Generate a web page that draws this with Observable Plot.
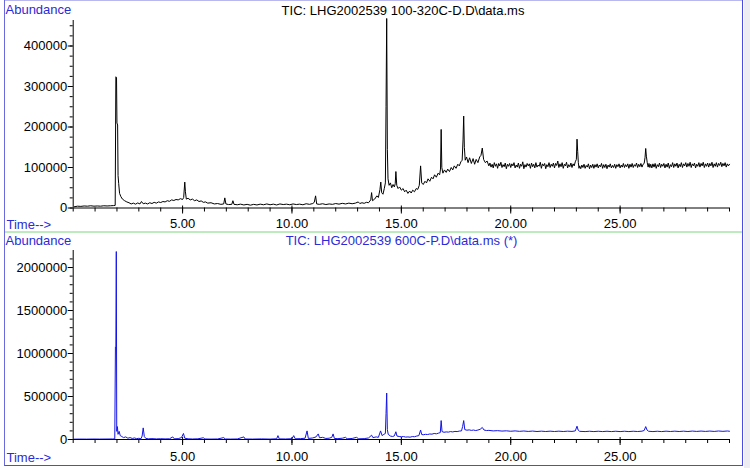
<!DOCTYPE html>
<html>
<head>
<meta charset="utf-8">
<script src="https://cdn.jsdelivr.net/npm/d3@7"></script>
<script src="https://cdn.jsdelivr.net/npm/@observablehq/plot@0.6"></script>
<style>
  html, body { margin: 0; padding: 0; background: #fff; }
  #wrap { position: relative; width: 750px; height: 468px; overflow: hidden; background: #fff; }
  #wrap > svg, #wrap > div { position: absolute; left: 0; }
</style>
</head>
<body>
<div id="wrap"></div>
<script>
// ---------- data ----------
const topTitle = "TIC: LHG2002539 100-320C-D.D\\data.ms";
const botTitle = "TIC: LHG2002539 600C-P.D\\data.ms (*)";
const yLabel = "Abundance";
const xLabel = "Time-->";

const xMajorTicks = [5, 10, 15, 20, 25];
const topYTicks = [0, 100000, 200000, 300000, 400000];
const botYTicks = [0, 500000, 1000000, 1500000, 2000000];

// [time (min), abundance]
const topTrace = [
[0.05,3000],[0.2,4500],[0.35,4000],[0.5,5000],[0.65,4500],[0.8,5500],[0.95,4500],[1.1,5000],[1.25,4500],[1.4,5500],[1.55,5000],[1.7,5500],[1.85,6000],[1.92,6500],
[1.95,324000],[1.98,322000],[2.0,210000],[2.03,205000],[2.05,80000],[2.08,60000],[2.12,36000],[2.18,28000],[2.25,22000],[2.35,18000],[2.45,15000],
[2.55,13000],[2.65,10000],[2.75,12000],[2.85,9500],[2.95,12500],[3.05,10000],[3.12,16000],[3.2,10500],[3.3,12000],[3.4,10000],[3.5,13000],[3.6,11000],[3.7,14000],[3.8,12000],[3.9,15000],[4.0,13500],[4.1,16000],[4.2,15000],[4.3,18000],[4.4,16500],[4.5,20000],[4.6,18500],[4.7,21000],[4.8,20000],[4.9,23000],[5.0,21000],[5.05,26000],[5.1,64000],[5.13,40000],[5.17,22000],[5.25,24000],[5.35,20000],[5.45,22000],[5.55,18000],[5.65,20000],[5.75,16000],[5.85,17500],[5.95,14000],[6.05,15000],[6.15,12000],[6.3,13000],[6.45,10000],[6.6,11000],[6.75,9000],[6.88,10000],[6.93,25000],[6.98,10000],[7.1,8500],[7.25,9000],[7.3,18000],[7.35,9000],[7.5,8000],[7.65,9500],[7.8,7500],[7.95,9000],[8.1,7000],[8.25,9000],[8.4,7500],[8.55,9500],[8.7,8000],[8.85,10000],[9.0,8000],[9.15,9500],[9.3,7500],[9.45,10000],[9.6,8500],[9.75,9500],[9.9,8000],[10.05,10000],[10.2,8500],[10.35,9500],[10.5,8000],[10.65,10500],[10.8,9000],[10.95,11000],[11.02,14000],[11.08,30000],[11.13,10000],[11.25,9000],[11.4,10500],[11.55,8500],[11.7,10000],[11.85,9000],[12.0,11000],[12.15,9500],[12.3,11500],[12.45,10000],[12.6,12000],[12.75,10500],[12.9,12000],[13.03,15000],[13.1,11000],[13.2,13000],[13.3,11500],[13.4,14000],[13.5,13000],[13.6,20000],[13.64,38000],[13.68,18000],[13.78,22000],[13.88,30000],[13.95,26000],[14.02,45000],[14.06,64000],[14.1,38000],[14.16,34000],[14.22,48000],[14.27,62000],[14.3,250000],[14.33,468000],[14.36,145000],[14.39,72000],[14.44,56000],[14.5,62000],[14.56,50000],[14.62,58000],[14.68,52000],[14.72,60000],[14.75,90000],[14.79,56000],[14.85,48000],[14.92,52000],[15.0,44000],[15.08,48000],[15.15,40000],[15.22,44000],[15.3,36000],[15.38,42000],[15.45,37000],[15.52,44000],[15.6,40000],[15.68,48000],[15.75,46000],[15.82,56000],[15.88,104000],[15.93,62000],[16.0,58000],[16.08,66000],[16.15,62000],[16.22,72000],[16.3,66000],[16.38,76000],[16.45,72000],[16.52,82000],[16.6,76000],[16.68,86000],[16.75,82000],[16.79,96000],[16.82,194000],[16.85,100000],[16.9,86000],[16.97,94000],[17.05,88000],[17.12,96000],[17.2,90000],[17.28,100000],[17.35,94000],[17.42,104000],[17.5,98000],[17.58,108000],[17.65,104000],[17.72,114000],[17.78,118000],[17.82,168000],[17.85,227000],[17.88,150000],[17.92,118000],[17.98,126000],[18.05,112000],[18.12,124000],[18.2,110000],[18.28,122000],[18.35,108000],[18.42,120000],[18.5,112000],[18.58,126000],[18.64,130000],[18.7,148000],[18.76,120000],[18.84,112000],[18.92,116000],
[19.0,104000],[19.05,111000],[19.1,101000],[19.15,108000],[19.2,99000],[19.25,112000],[19.3,103000],[19.35,109000],[19.4,98000],[19.45,110000],[19.5,104000],[19.55,113000],[19.6,100000],[19.65,107000],[19.7,102000],[19.75,111000],[19.8,97000],[19.85,108000],[19.9,103000],[19.95,110000],
[20.0,100000],[20.05,109000],[20.1,104000],[20.15,112000],[20.2,99000],[20.25,106000],[20.3,101000],[20.35,111000],[20.4,98000],[20.45,108000],[20.5,103000],[20.55,114000],[20.6,97000],[20.65,107000],[20.7,101000],[20.75,110000],[20.8,104000],[20.85,109000],[20.9,98000],[20.95,111000],
[21.0,102000],[21.05,108000],[21.1,99000],[21.15,112000],[21.2,101000],[21.25,106000],[21.3,103000],[21.35,113000],[21.4,98000],[21.45,109000],[21.5,104000],[21.55,110000],[21.6,97000],[21.65,107000],[21.7,102000],[21.75,112000],[21.8,100000],[21.85,108000],[21.9,103000],[21.95,111000],
[22.0,99000],[22.05,110000],[22.1,105000],[22.15,116000],[22.2,100000],[22.25,109000],[22.3,102000],[22.35,112000],[22.4,98000],[22.45,108000],[22.5,104000],[22.55,113000],[22.6,99000],[22.65,107000],[22.7,102000],[22.75,111000],[22.8,100000],[22.85,109000],[22.9,104000],[22.95,114000],[23.0,120000],[23.03,170000],[23.06,140000],[23.09,112000],[23.12,98000],[23.15,104000],
[23.2,97000],[23.25,106000],[23.3,100000],[23.35,108000],[23.4,98000],[23.45,105000],[23.5,101000],[23.55,109000],[23.6,97000],[23.65,106000],[23.7,100000],[23.75,108000],[23.8,98000],[23.85,107000],[23.9,101000],[23.95,109000],
[24.0,99000],[24.05,106000],[24.1,102000],[24.15,110000],[24.2,98000],[24.25,107000],[24.3,100000],[24.35,108000],[24.4,97000],[24.45,106000],[24.5,101000],[24.55,109000],[24.6,99000],[24.65,105000],[24.7,100000],[24.75,108000],[24.8,98000],[24.85,107000],[24.9,102000],[24.95,109000],
[25.0,99000],[25.05,106000],[25.1,101000],[25.15,110000],[25.2,100000],[25.25,107000],[25.3,102000],[25.35,109000],[25.4,98000],[25.45,108000],[25.5,101000],[25.55,110000],[25.6,100000],[25.65,107000],[25.7,103000],[25.75,111000],[25.8,100000],[25.85,108000],[25.9,102000],[25.95,110000],
[26.0,101000],[26.05,108000],[26.1,110000],[26.14,125000],[26.17,147000],[26.2,128000],[26.24,112000],[26.28,101000],[26.32,110000],[26.36,100000],[26.4,108000],[26.45,99000],[26.5,109000],[26.55,101000],[26.6,110000],[26.65,98000],[26.7,107000],[26.75,102000],[26.8,111000],[26.85,100000],[26.9,108000],[26.95,103000],
[27.0,110000],[27.05,99000],[27.1,108000],[27.15,101000],[27.2,111000],[27.25,98000],[27.3,107000],[27.35,102000],[27.4,112000],[27.45,100000],[27.5,109000],[27.55,103000],[27.6,111000],[27.65,99000],[27.7,108000],[27.75,102000],[27.8,112000],[27.85,100000],[27.9,109000],[27.95,104000],
[28.0,112000],[28.05,101000],[28.1,110000],[28.15,103000],[28.2,113000],[28.25,100000],[28.3,109000],[28.35,104000],[28.4,111000],[28.45,99000],[28.5,108000],[28.55,103000],[28.6,112000],[28.65,101000],[28.7,110000],[28.75,104000],[28.8,113000],[28.85,100000],[28.9,109000],[28.95,103000],
[29.0,111000],[29.05,101000],[29.1,110000],[29.15,104000],[29.2,113000],[29.25,100000],[29.3,109000],[29.35,103000],[29.4,112000],[29.45,101000],[29.5,110000],[29.55,105000],[29.6,113000],[29.65,102000],[29.7,110000],[29.75,104000],[29.8,112000],[29.85,101000],[29.9,109000],[29.95,104000],[30.0,108000]
];

const botTrace = [
[0.05,4000],[0.3,5000],[0.6,4500],[0.9,5500],[1.2,5000],[1.5,5500],[1.8,6000],[1.9,7000],[1.93,1080000],[1.95,1085000],[1.97,2186000],[1.99,95000],[2.02,150000],[2.05,60000],[2.1,95000],[2.15,45000],[2.22,35000],[2.3,22000],[2.4,30000],[2.5,15000],[2.6,22000],[2.7,12000],[2.8,18000],[2.9,10000],[3.0,14000],[3.1,9000],[3.15,40000],[3.2,135000],[3.25,35000],[3.32,12000],[3.45,8000],[3.6,10000],[3.8,7000],[4.0,9000],[4.2,7000],[4.4,8000],[4.55,30000],[4.62,8000],[4.8,10000],[4.95,22000],[5.04,70000],[5.1,15000],[5.25,8000],[5.45,6000],[5.7,8000],[5.95,20000],[6.02,6000],[6.3,5000],[6.6,6000],[6.88,22000],[6.95,6000],[7.2,5000],[7.5,6000],[7.8,30000],[7.86,6000],[8.2,5000],[8.6,7000],[9.0,5000],[9.3,8000],[9.36,45000],[9.42,7000],[9.7,6000],[10.0,9000],[10.08,45000],[10.15,8000],[10.4,10000],[10.6,15000],[10.69,100000],[10.75,12000],[10.95,18000],[11.1,30000],[11.2,65000],[11.26,20000],[11.4,25000],[11.55,12000],[11.7,15000],[11.82,25000],[11.88,65000],[11.94,12000],[12.1,10000],[12.3,15000],[12.45,25000],[12.52,8000],[12.75,12000],[12.95,25000],[13.05,8000],[13.3,10000],[13.5,18000],[13.64,50000],[13.7,22000],[13.85,30000],[13.95,25000],[14.05,100000],[14.12,45000],[14.2,60000],[14.27,70000],[14.3,300000],[14.33,540000],[14.36,115000],[14.4,60000],[14.5,40000],[14.6,35000],[14.68,42000],[14.75,90000],[14.8,40000],[14.9,35000],[15.0,32000],[15.1,34000],[15.2,28000],[15.3,30000],[15.4,27000],[15.5,34000],[15.6,32000],[15.7,40000],[15.8,45000],[15.88,110000],[15.93,58000],[16.0,55000],[16.1,60000],[16.2,58000],[16.3,64000],[16.4,62000],[16.5,70000],[16.6,66000],[16.7,74000],[16.78,80000],[16.82,220000],[16.86,92000],[16.95,84000],[17.05,88000],[17.15,86000],[17.25,92000],[17.35,88000],[17.45,94000],[17.55,92000],[17.65,98000],[17.75,100000],[17.8,150000],[17.85,220000],[17.9,115000],[18.0,108000],[18.1,112000],[18.2,106000],[18.3,110000],[18.4,104000],[18.5,110000],[18.6,118000],[18.7,140000],[18.78,110000],[18.9,104000],[19.0,106000],[19.2,100000],[19.4,103000],[19.6,98000],[19.8,101000],[20.0,96000],[20.2,100000],[20.4,95000],[20.6,99000],[20.8,94000],[21.0,98000],[21.2,93000],[21.4,97000],[21.6,93000],[21.8,97000],[22.0,93000],[22.2,97000],[22.4,93000],[22.6,97000],[22.8,94000],[22.95,100000],[23.03,155000],[23.08,110000],[23.15,95000],[23.4,92000],[23.6,96000],[23.8,92000],[24.0,96000],[24.2,92000],[24.4,96000],[24.6,92000],[24.8,96000],[25.0,92000],[25.2,96000],[25.4,92000],[25.6,96000],[25.8,93000],[26.0,97000],[26.1,105000],[26.17,150000],[26.23,110000],[26.3,96000],[26.5,92000],[26.7,96000],[26.9,92000],[27.1,97000],[27.3,93000],[27.5,97000],[27.7,93000],[27.9,97000],[28.1,93000],[28.3,98000],[28.5,94000],[28.7,98000],[28.9,94000],[29.1,98000],[29.3,94000],[29.5,99000],[29.7,95000],[29.9,99000],[30.0,96000]
];

// ---------- drawing ----------
const FONT = "'Liberation Sans', Arial, sans-serif";
const BLUE_TEXT = "#2b2bd8";
const xMinorTicks = d3.range(0, 31, 1);

function panel({data, stroke, yMax, yMajor, yMinor, height, marginTop, marginBottom, labelPad}) {
  return Plot.plot({
    width: 750, height,
    marginLeft: 72.7, marginRight: 21, marginTop, marginBottom,
    x: {domain: [0, 30], axis: null},
    y: {domain: [0, yMax], axis: null},
    style: {fontFamily: FONT, fontSize: "13px", color: "#000", background: "transparent", overflow: "visible"},
    marks: [
      Plot.line(data, {x: d => d[0], y: d => d[1], stroke, strokeWidth: 1}),
      Plot.ruleX([0], {stroke: "#000"}),
      Plot.ruleY([0], {stroke: "#000"}),
      Plot.axisY({ticks: yMinor, tickSize: 3, tickFormat: () => "", label: null}),
      Plot.axisY({ticks: yMajor, tickSize: 5, tickPadding: 1, tickFormat: d => String(d), label: null, fill: "#000"}),
      Plot.axisX({ticks: xMinorTicks, tickSize: 4, tickFormat: () => "", label: null}),
      Plot.axisX({ticks: xMajorTicks, tickSize: 8, dy: -2, tickPadding: labelPad, tickFormat: d => d.toFixed(2), label: null, fill: "#000"})
    ]
  });
}

const wrap = document.getElementById("wrap");

const topPlot = panel({
  data: topTrace, stroke: "#000", yMax: 463000,
  yMajor: topYTicks, yMinor: d3.range(0, 460000, 25000),
  height: 232, marginTop: 20, marginBottom: 24.5, labelPad: 4.5
});
topPlot.style.top = "0px";
wrap.appendChild(topPlot);

const botPlot = panel({
  data: botTrace, stroke: "#1414e6", yMax: 2198000,
  yMajor: botYTicks, yMinor: d3.range(0, 2150000, 100000),
  height: 234, marginTop: 18, marginBottom: 27, labelPad: 6.5
});
botPlot.style.top = "232px";
wrap.appendChild(botPlot);

// frame, separator and panel texts
const ov = d3.create("svg").attr("width", 750).attr("height", 468)
  .style("top", "0px").style("position", "absolute").style("left", "0px")
  .style("font-family", FONT).style("font-size", "13px");
ov.append("rect").attr("x", 744).attr("y", 0).attr("width", 6).attr("height", 468).attr("fill", "#ececf2");
ov.append("line").attr("x1", 4.5).attr("x2", 743).attr("y1", 0.5).attr("y2", 0.5).attr("stroke", "#b8b8ee");
ov.append("line").attr("x1", 4.5).attr("x2", 4.5).attr("y1", 0).attr("y2", 466).attr("stroke", "#6a6ae0");
ov.append("line").attr("x1", 742.5).attr("x2", 742.5).attr("y1", 0).attr("y2", 466).attr("stroke", "#4a4ae6");
ov.append("line").attr("x1", 4.5).attr("x2", 743).attr("y1", 465.5).attr("y2", 465.5).attr("stroke", "#4a4ae6");
ov.append("line").attr("x1", 5).attr("x2", 742).attr("y1", 232).attr("y2", 232).attr("stroke", "#a8e4a8").attr("stroke-width", 1.5);

const texts = [
  {t: yLabel, x: 5.5, y: 14, fill: BLUE_TEXT, anchor: "start"},
  {t: topTitle, x: 403, y: 14.5, fill: "#000", anchor: "middle"},
  {t: xLabel, x: 6.5, y: 228.5, fill: BLUE_TEXT, anchor: "start"},
  {t: yLabel, x: 5.5, y: 245, fill: BLUE_TEXT, anchor: "start"},
  {t: botTitle, x: 401.5, y: 245, fill: BLUE_TEXT, anchor: "middle"},
  {t: xLabel, x: 6.5, y: 461.5, fill: BLUE_TEXT, anchor: "start"}
];
for (const d of texts) {
  ov.append("text").attr("x", d.x).attr("y", d.y).attr("fill", d.fill)
    .attr("text-anchor", d.anchor).text(d.t);
}
wrap.appendChild(ov.node());
</script>
</body>
</html>
